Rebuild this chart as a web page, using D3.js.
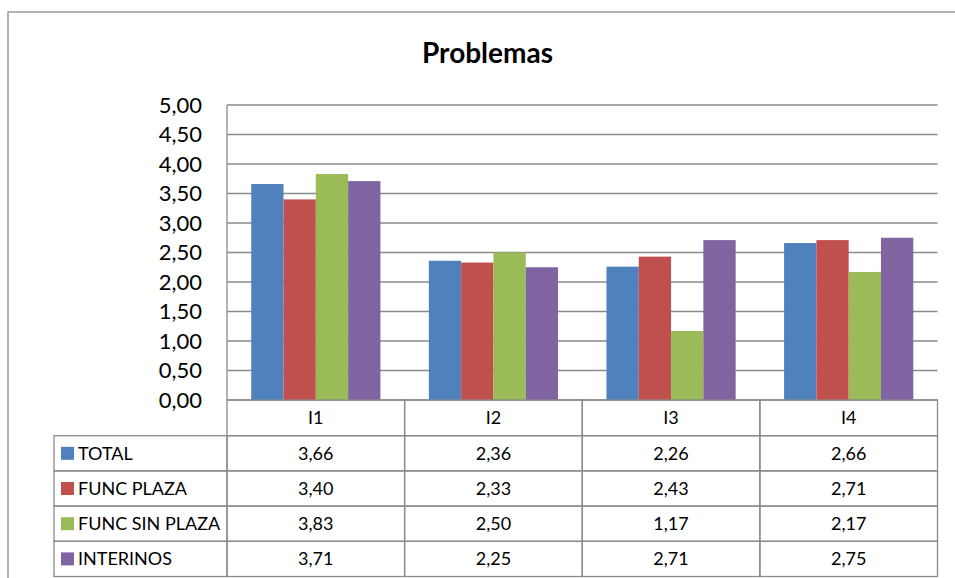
<!DOCTYPE html>
<html>
<head>
<meta charset="utf-8">
<script src="https://cdn.jsdelivr.net/npm/d3@7"></script>
<style>
  html, body { margin: 0; padding: 0; background: #fff; }
  svg { display: block; }
  text { font-family: Lato, "Open Sans", sans-serif; fill: #000; }
</style>
</head>
<body>
<svg id="chart" width="955" height="578"></svg>
<script>
// Indicators (x categories)
const categories = ["I1", "I2", "I3", "I4"];
// Series names and colours
const seriesNames = ["TOTAL", "FUNC PLAZA", "FUNC SIN PLAZA", "INTERINOS"];
const seriesColors = ["#4F81BD", "#C0504D", "#9BBB59", "#8064A2"];
// Values per series, one per indicator
const total        = [3.66, 2.36, 2.26, 2.66];
const funcPlaza    = [3.40, 2.33, 2.43, 2.71];
const funcSinPlaza = [3.83, 2.50, 1.17, 2.17];
const interinos    = [3.71, 2.25, 2.71, 2.75];
const seriesValues = [total, funcPlaza, funcSinPlaza, interinos];
// Value axis ticks
const yTicks = [0, 0.5, 1, 1.5, 2, 2.5, 3, 3.5, 4, 4.5, 5];

const fmt = v => v.toFixed(2).replace(".", ",");
const grid = "#8a8a8a";

const svg = d3.select("#chart");

// Chart frame
svg.append("rect")
  .attr("x", 8).attr("y", 12).attr("width", 970).attr("height", 600)
  .attr("fill", "none").attr("stroke", grid).attr("stroke-width", 1.3);

// Title
svg.append("text")
  .attr("x", 487.5).attr("y", 63)
  .attr("text-anchor", "middle")
  .style("font-size", "28px").style("font-weight", "bold")
  .text("Problemas");

const plot = { left: 227, right: 937.5, top: 105, bottom: 400 };

const x0 = d3.scaleBand().domain(categories)
  .range([plot.left, plot.right]).paddingInner(0).paddingOuter(0);
const x1 = d3.scaleBand().domain(seriesNames)
  .range([0, x0.bandwidth()]).paddingInner(0).paddingOuter(0.75);
const y = d3.scaleLinear().domain([0, 5]).range([plot.bottom, plot.top]);

// Horizontal gridlines
svg.append("g").selectAll("line").data(yTicks).join("line")
  .attr("x1", plot.left).attr("x2", plot.right)
  .attr("y1", d => y(d)).attr("y2", d => y(d))
  .attr("stroke", grid).attr("stroke-width", 1.3);

// Value axis line
svg.append("line")
  .attr("x1", plot.left).attr("x2", plot.left)
  .attr("y1", plot.top).attr("y2", plot.bottom)
  .attr("stroke", grid).attr("stroke-width", 1.3);

// Value axis labels
const yAxis = d3.axisLeft(y).tickValues(yTicks).tickFormat(fmt).tickSize(0).tickPadding(25);
const ya = svg.append("g").attr("transform", `translate(${plot.left},0)`).call(yAxis);
ya.select(".domain").remove();
ya.selectAll("text").style("font-size", "22px").style("font-family", "Lato, sans-serif").attr("fill", "#000");

// Bars
const groups = svg.append("g").selectAll("g").data(seriesNames).join("g")
  .attr("fill", (d, i) => seriesColors[i]);
groups.selectAll("rect")
  .data((s, si) => categories.map((c, ci) => ({ c, s, v: seriesValues[si][ci] })))
  .join("rect")
  .attr("x", d => x0(d.c) + x1(d.s))
  .attr("width", x1.bandwidth())
  .attr("y", d => y(d.v))
  .attr("height", d => y(0) - y(d.v));

// Data table
const rowH = 35.2;
const headTop = plot.bottom;
const bodyTop = headTop + 35.7;
const tableLeft = 54;
const tbl = svg.append("g");

// Category header cells
categories.forEach(c => {
  tbl.append("rect")
    .attr("x", x0(c)).attr("y", headTop)
    .attr("width", x0.bandwidth()).attr("height", bodyTop - headTop)
    .attr("fill", "none").attr("stroke", grid).attr("stroke-width", 1.3);
  tbl.append("text")
    .attr("x", x0(c) + x0.bandwidth() / 2).attr("y", headTop + 24)
    .attr("text-anchor", "middle").style("font-size", "18px")
    .text(c);
});

// Series rows
seriesNames.forEach((s, si) => {
  const top = bodyTop + si * rowH;
  tbl.append("rect")
    .attr("x", tableLeft).attr("y", top)
    .attr("width", plot.left - tableLeft).attr("height", rowH)
    .attr("fill", "none").attr("stroke", grid).attr("stroke-width", 1.3);
  tbl.append("rect")
    .attr("x", 61).attr("y", top + rowH / 2 - 6.5)
    .attr("width", 13).attr("height", 13)
    .attr("fill", seriesColors[si]);
  tbl.append("text")
    .attr("x", 78).attr("y", top + rowH / 2 + 6.5)
    .style("font-size", "18px")
    .text(s);
  categories.forEach((c, ci) => {
    tbl.append("rect")
      .attr("x", x0(c)).attr("y", top)
      .attr("width", x0.bandwidth()).attr("height", rowH)
      .attr("fill", "none").attr("stroke", grid).attr("stroke-width", 1.3);
    tbl.append("text")
      .attr("x", x0(c) + x0.bandwidth() / 2).attr("y", top + rowH / 2 + 6.5)
      .attr("text-anchor", "middle").style("font-size", "18px")
      .text(fmt(seriesValues[si][ci]));
  });
});
</script>
</body>
</html>
